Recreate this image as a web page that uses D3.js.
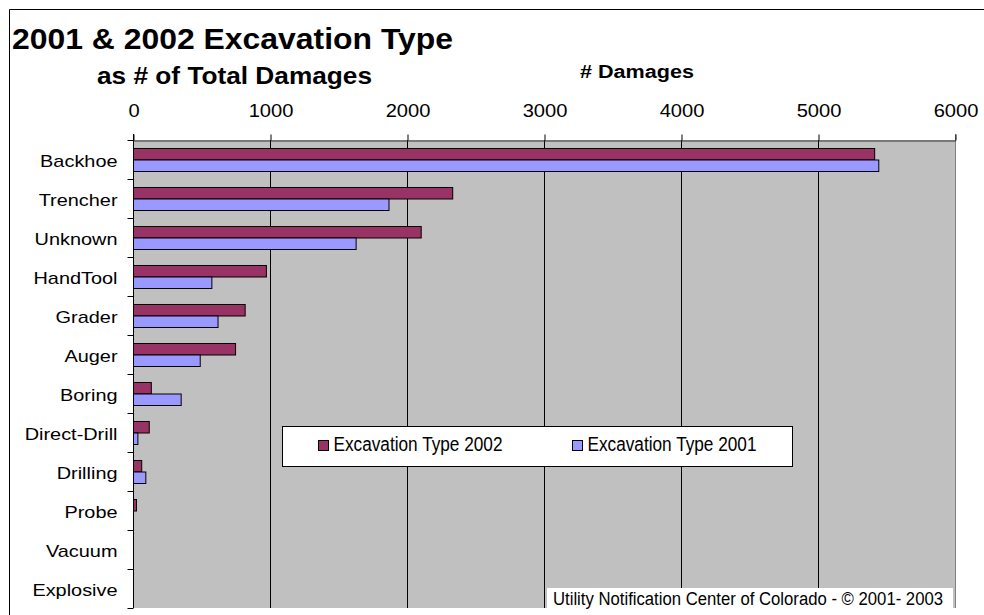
<!DOCTYPE html>
<html>
<head>
<meta charset="utf-8">
<script src="https://cdn.jsdelivr.net/npm/d3@7"></script>
<style>
  body { margin: 0; background: #fff; }
  svg { display: block; }
  svg text { font-family: "Liberation Sans", Arial, sans-serif; }
</style>
</head>
<body>
<div id="chart"></div>
<script>
// data
const categories = ["Backhoe", "Trencher", "Unknown", "HandTool", "Grader", "Auger",
  "Boring", "Direct-Drill", "Drilling", "Probe", "Vacuum", "Explosive"];
const damages2002 = [5410, 2330, 2100, 970, 815, 745, 130, 115, 60, 22, 0, 0];
const damages2001 = [5440, 1865, 1625, 572, 617, 487, 348, 32, 90, 0, 0, 0];
const seriesNames = ["Excavation Type 2002", "Excavation Type 2001"];
const seriesColors = ["#993366", "#9999FF"];
const xTicks = [0, 1000, 2000, 3000, 4000, 5000, 6000];

const width = 984, height = 615;
const plot = {left: 133, right: 955, top: 140, bottom: 608};

// text in the original is a bit wide, stretch it sideways
function squeeze(sel, sx) {
  sel.each(function () {
    const t = d3.select(this);
    const x = +t.attr("x") || 0;
    t.attr("x", x / sx).attr("transform", "scale(" + sx + ",1)");
  });
}

const svg = d3.select("#chart").append("svg")
  .attr("width", width)
  .attr("height", height);

// outer frame (runs off the right and bottom)
svg.append("path")
  .attr("d", "M9.5," + height + "V9.5H" + width)
  .attr("fill", "none")
  .attr("stroke", "#000");

const x = d3.scaleLinear().domain([0, 6000]).range([plot.left, plot.right]);
const y = d3.scaleBand().domain(categories)
  .range([plot.top, plot.bottom])
  .paddingInner(0.41).paddingOuter(0.205);
const ySeries = d3.scaleBand().domain(seriesNames).range([0, y.bandwidth()]);

svg.append("rect")
  .attr("x", plot.left).attr("y", plot.top)
  .attr("width", plot.right - plot.left).attr("height", plot.bottom - plot.top)
  .attr("fill", "#c0c0c0");

// gridlines
svg.append("g").selectAll("line")
  .data(xTicks.filter(d => d > 0 && d < 6000))
  .join("line")
  .attr("x1", d => x(d) + 0.5).attr("x2", d => x(d) + 0.5)
  .attr("y1", plot.top).attr("y2", plot.bottom)
  .attr("stroke", "#000");

// right edge of plot
svg.append("line")
  .attr("x1", plot.right + 0.5).attr("x2", plot.right + 0.5)
  .attr("y1", plot.top - 6).attr("y2", plot.bottom)
  .attr("stroke", "#808080");

// bars
const rows = categories.map((c, i) => ({cat: c, values: [damages2002[i], damages2001[i]]}));
const groups = svg.append("g").selectAll("g")
  .data(rows)
  .join("g")
  .attr("transform", d => "translate(0," + y(d.cat) + ")");
groups.selectAll("rect")
  .data(d => d.values.map((v, k) => ({name: seriesNames[k], value: v, color: seriesColors[k]})).filter(e => e.value > 0))
  .join("rect")
  .attr("x", x(0) + 0.5)
  .attr("y", d => ySeries(d.name) + 0.5)
  .attr("width", d => x(d.value) - x(0))
  .attr("height", ySeries.bandwidth())
  .attr("fill", d => d.color)
  .attr("stroke", "#000");

// top axis
const xAxis = svg.append("g")
  .attr("transform", "translate(0.5," + (plot.top + 0.5) + ")")
  .call(d3.axisTop(x).tickValues(xTicks).tickFormat(d3.format("d"))
    .tickSize(6).tickPadding(18).tickSizeOuter(0))
  .attr("font-family", null).attr("font-size", null);
xAxis.select(".domain").attr("stroke", "#333");
xAxis.selectAll(".tick line").attr("stroke", "#000");
xAxis.selectAll("text").attr("font-size", 17.5).attr("fill", "#000");
squeeze(xAxis.selectAll("text"), 1.15);

// left axis, labels centred on bands, ticks on the boundaries
const yAxis = svg.append("g")
  .attr("transform", "translate(" + (plot.left + 0.5) + ",0)")
  .call(d3.axisLeft(y).tickSize(0).tickPadding(16))
  .attr("font-family", null).attr("font-size", null);
yAxis.select(".domain").attr("stroke", "#000").attr("d", "M0," + (plot.top - 6) + "V" + plot.bottom);
yAxis.selectAll("text").attr("font-size", 17).attr("fill", "#000").attr("dy", "0.42em");
squeeze(yAxis.selectAll("text"), 1.17);
const bounds = categories.map(c => y(c) - y.step() * y.paddingOuter()).concat([plot.bottom]);
yAxis.append("g").selectAll("line")
  .data(bounds)
  .join("line")
  .attr("x1", -6).attr("x2", 0)
  .attr("y1", d => Math.round(d) + 0.5).attr("y2", d => Math.round(d) + 0.5)
  .attr("stroke", "#000");

// titles
svg.append("text")
  .attr("x", 12).attr("y", 49)
  .attr("font-size", 29).attr("font-weight", "bold")
  .attr("textLength", 441).attr("lengthAdjust", "spacingAndGlyphs")
  .text("2001 & 2002 Excavation Type");
svg.append("text")
  .attr("x", 97).attr("y", 84)
  .attr("font-size", 24).attr("font-weight", "bold")
  .attr("textLength", 275).attr("lengthAdjust", "spacingAndGlyphs")
  .text("as # of Total Damages");
svg.append("text")
  .attr("x", 580).attr("y", 78)
  .attr("font-size", 18).attr("font-weight", "bold")
  .attr("textLength", 114).attr("lengthAdjust", "spacingAndGlyphs")
  .text("# Damages");

// legend
const legend = svg.append("g").attr("transform", "translate(282.5,426.5)");
legend.append("rect")
  .attr("width", 510).attr("height", 40)
  .attr("fill", "#fff").attr("stroke", "#000");
const legendX = [36, 290];
const items = legend.selectAll("g.item")
  .data(seriesNames)
  .join("g")
  .attr("class", "item")
  .attr("transform", (d, i) => "translate(" + legendX[i] + ",14)");
items.append("rect")
  .attr("width", 10).attr("height", 10)
  .attr("fill", (d, i) => seriesColors[i])
  .attr("stroke", "#000");
items.append("text")
  .attr("x", 15).attr("y", 10.5)
  .attr("font-size", 20)
  .attr("textLength", 169).attr("lengthAdjust", "spacingAndGlyphs")
  .text(d => d);

// footer
svg.append("rect")
  .attr("x", 547).attr("y", 588)
  .attr("width", 406).attr("height", 22)
  .attr("fill", "#fff");
svg.append("text")
  .attr("x", 553).attr("y", 605)
  .attr("font-size", 18)
  .attr("textLength", 390).attr("lengthAdjust", "spacingAndGlyphs")
  .text("Utility Notification Center of Colorado - \u00a9 2001- 2003");
</script>
</body>
</html>
